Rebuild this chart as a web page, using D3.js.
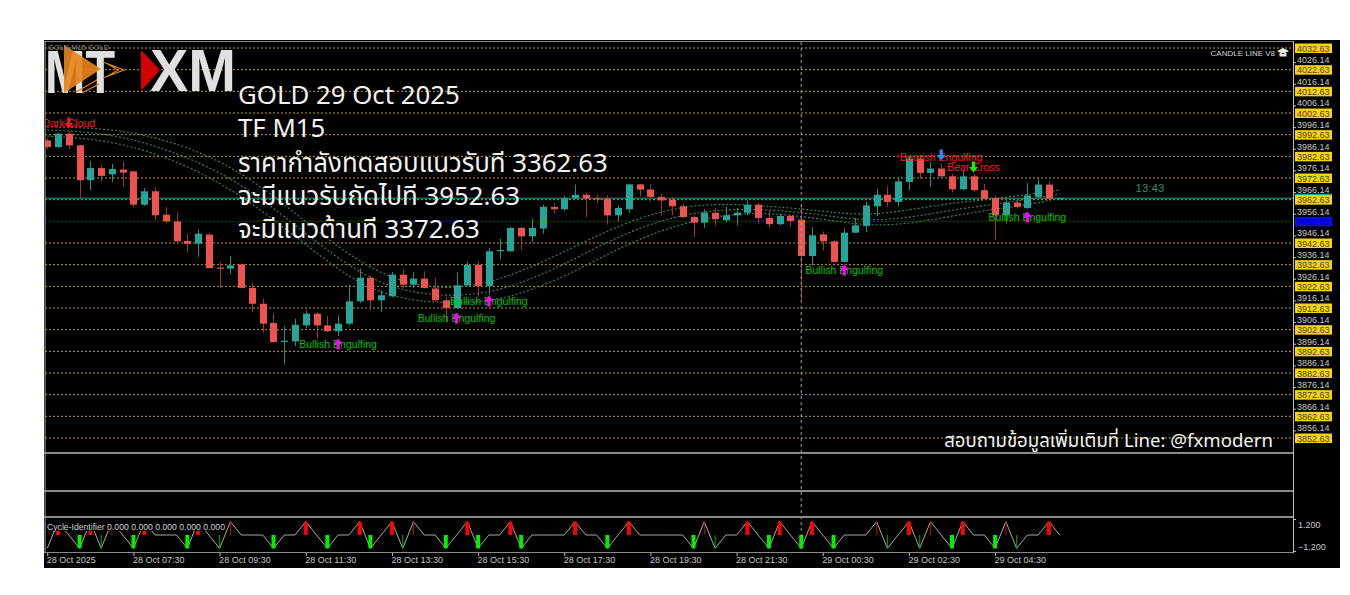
<!DOCTYPE html>
<html><head><meta charset="utf-8">
<script src="https://cdn.jsdelivr.net/npm/d3@7"></script>
<style>body{margin:0;background:#fff}svg{display:block}</style>
</head><body>
<svg id="c" width="1350" height="595"></svg>
<script>
// ---------------- DATA ----------------
const candleOpen  = [3990.0,3986.9,3993.1,3987.7,3971.6,3977.2,3974.3,3976.5,3975.7,3960.3,3966.5,3955.7,3952.6,3943.6,3942.3,3946.5,3931.3,3930.8,3932.8,3921.9,3914.6,3905.7,3897.0,3897.2,3904.6,3910.0,3904.6,3901.9,3905.4,3915.7,3926.6,3916.2,3918.0,3928.0,3923.4,3926.2,3921.6,3916.2,3912.6,3923.1,3932.6,3922.8,3939.0,3938.8,3949.6,3945.7,3949.3,3959.3,3958.2,3963.4,3964.9,3963.3,3963.1,3955.4,3958.2,3969.7,3967.3,3963.9,3962.6,3959.6,3954.6,3952.0,3956.6,3953.1,3955.4,3956.6,3960.3,3954.2,3951.3,3955.1,3953.4,3936.6,3946.6,3943.4,3933.9,3947.4,3950.5,3959.6,3964.9,3961.6,3970.8,3981.6,3975.0,3977.0,3973.4,3967.4,3973.4,3967.0,3963.4,3955.4,3961.3,3958.8,3963.9,3969.6,3963.1];
const candleHigh  = [3991.0,3993.5,3994.2,3988.0,3980.5,3978.8,3979.2,3980.3,3976.0,3968.0,3968.3,3959.2,3957.2,3946.9,3948.9,3947.4,3933.9,3936.6,3933.1,3924.3,3916.9,3910.0,3904.3,3907.7,3911.6,3910.5,3908.9,3909.2,3923.4,3930.8,3927.4,3920.8,3929.3,3930.3,3929.3,3929.6,3926.5,3917.7,3929.0,3933.9,3934.2,3940.3,3944.6,3950.0,3950.0,3953.9,3960.3,3961.1,3964.6,3969.6,3965.9,3964.9,3964.6,3960.0,3970.0,3970.0,3969.6,3965.4,3963.9,3960.8,3955.4,3958.2,3958.8,3959.3,3958.8,3962.3,3961.1,3957.7,3956.2,3955.4,3960.0,3950.0,3948.0,3943.9,3949.3,3954.2,3961.6,3967.7,3968.8,3973.0,3982.4,3983.4,3980.0,3979.3,3974.6,3976.2,3974.6,3970.0,3964.6,3963.1,3963.4,3970.3,3972.3,3971.1,3963.4];
const candleLow   = [3986.0,3986.5,3985.9,3963.1,3966.9,3971.1,3970.8,3968.5,3959.2,3959.7,3953.1,3951.6,3943.1,3938.5,3936.2,3930.8,3921.9,3928.2,3921.6,3910.8,3901.2,3896.6,3886.5,3895.1,3903.1,3898.5,3901.6,3899.7,3904.6,3915.0,3911.6,3910.8,3917.7,3921.9,3921.9,3921.6,3915.7,3905.9,3912.3,3922.8,3917.7,3918.8,3935.1,3938.5,3939.6,3943.1,3946.9,3956.2,3957.3,3963.0,3954.6,3960.8,3951.1,3952.6,3956.6,3964.2,3961.9,3955.4,3955.4,3954.2,3945.4,3949.6,3950.8,3952.0,3950.8,3955.4,3951.6,3949.6,3950.8,3950.0,3916.2,3932.3,3939.3,3933.6,3933.6,3947.2,3947.7,3955.1,3959.3,3959.5,3967.0,3972.3,3968.5,3972.6,3965.9,3967.0,3966.0,3962.8,3943.9,3951.6,3958.5,3958.5,3963.4,3962.8,3963.0];
const candleClose = [3986.9,3993.1,3987.7,3971.6,3977.2,3973.6,3976.8,3975.1,3960.3,3966.5,3955.4,3952.6,3943.4,3942.3,3946.9,3931.1,3931.0,3932.3,3921.9,3914.6,3905.4,3896.9,3897.5,3904.9,3910.0,3904.6,3901.9,3905.4,3915.7,3926.6,3916.2,3918.5,3928.0,3923.4,3926.2,3921.9,3916.2,3912.6,3923.1,3932.6,3922.8,3938.8,3939.4,3949.6,3945.7,3949.6,3959.3,3958.2,3963.4,3964.9,3963.1,3963.0,3955.4,3958.8,3969.7,3967.3,3963.9,3962.3,3959.6,3954.6,3952.0,3956.6,3953.6,3955.4,3956.6,3960.3,3954.2,3951.3,3955.1,3952.8,3936.6,3946.2,3943.4,3933.9,3947.4,3950.8,3960.0,3964.9,3961.6,3971.1,3981.6,3975.0,3977.0,3973.4,3967.4,3973.4,3967.0,3963.1,3955.4,3961.3,3959.3,3964.6,3969.6,3963.1,3963.3];

// ribbon (dotted moving lines), read at these bar indices
const ribbonIndex = [0,6,12,18,24,30,36,42,48,54,60,66,72,76,80,84,88,92,94];
const ribbonUpper = [3996.2,3995.7,3989.3,3976.3,3952.3,3929.3,3920.0,3924.7,3938.5,3953.3,3961.1,3960.2,3957.4,3955.1,3957.9,3961.1,3963.0,3965.7,3967.1];
const ribbonMiddle= [3994.8,3993.4,3984.6,3970.8,3946.8,3924.2,3917.3,3919.6,3932.5,3948.6,3957.4,3958.8,3955.6,3952.8,3954.2,3957.9,3960.6,3963.4,3965.3];
const ribbonLower = [3992.0,3990.2,3981.0,3965.3,3941.7,3919.1,3914.5,3915.4,3926.5,3943.1,3953.7,3957.4,3953.7,3950.5,3951.4,3955.1,3958.3,3961.1,3963.4];

const priceLevels = [4032.63,4022.63,4012.63,4002.63,3992.63,3982.63,3972.63,3962.63,3952.63,3942.63,3932.63,3922.63,3912.63,3902.63,3892.63,3882.63,3872.63,3862.63,3852.63];
const supportLevel = 3952.63;
const priceTicks = [4026.14,4016.14,4006.14,3996.14,3986.14,3976.14,3966.14,3956.14,3946.14,3936.14,3926.14,3916.14,3906.14,3896.14,3886.14,3876.14,3866.14,3856.14];
const bidPrice = 3963.3;
const separatorIndex = 70;

const timeTickIndex = [0,8,16,24,32,40,48,56,64,72,80,88];
const timeLabels = ["28 Oct 2025","28 Oct 07:30","28 Oct 09:30","28 Oct 11:30","28 Oct 13:30","28 Oct 15:30","28 Oct 17:30","28 Oct 19:30","28 Oct 21:30","29 Oct 00:30","29 Oct 02:30","29 Oct 04:30"];

const signalIndex = [2,27,38,41,74,83,86,91];
const signalText  = ["Dark Cloud","Bullish Engulfing","Bullish Engulfing","Bullish Engulfing","Bullish Engulfing","Bearish Engulfing","Bear Cross","Bullish Engulfing"];
const signalPrice = [3998.0,3896.0,3908.0,3915.9,3930.2,3982.3,3977.7,3954.6];
const signalType  = ["darkcloud","bull","bull","bull","bull","bearengulf","bearcross","bull"];

const cycleValues = [-1,1,0,-1,1,-1,1,0,-1,1,0,0,0,-1,1,0,-1,1,0,0,0,-1,0,0,1,0,-1,0,0,1,-1,0,1,-1,1,0,0,-1,0,1,-1,0,0,1,-1,0,0,0,0,1,0,0,-1,0,1,0,0,0,0,0,-1,1,-1,0,0,1,0,-1,1,0,-1,1,0,-1,0,0,0,1,-1,0,1,-1,1,0,-1,1,0,0,-1,1,-1,0,0,1,0];
const cycleRedThick = [1,4,9,14,24,29,32,39,43,49,54,65,68,71,80,85,93];
const cycleRedThin = [6,17,34,61,77,82,89];
const cycleGreenThick = [3,8,13,21,26,30,37,40,44,52,60,67,70,73,84,88];
const cycleGreenThin = [5,16,33,62,78,81,90];
const cycleAxisValues = [1.2,-1.2];

const titleLines = ["GOLD 29 Oct 2025","TF M15","ราคากำลังทดสอบแนวรับที 3362.63","จะมีแนวรับถัดไปที 3952.63","จะมีแนวต้านที 3372.63"];
const footerText = "สอบถามข้อมูลเพิ่มเติมที่ Line: @fxmodern";
const timerText = "13:43";

// ---------------- DRAW ----------------
const svg = d3.select('#c');
const L = 45, R = 1293, T = 42, B = 452;
const thai = "'Noto Sans Thai','Noto Sans Thai UI','Noto Sans','DejaVu Sans',sans-serif";
const small = "'Liberation Sans',Arial,sans-serif";

svg.append('rect').attr('x',44).attr('y',40).attr('width',1296).attr('height',528).attr('fill','#000');

const x = d3.scaleLinear().domain([0,94]).range([47.3,1059.7]);
const y = d3.scaleLinear().domain([3846.17,4035.4]).range([B,T]);
const yc = d3.scaleLinear().domain([-1.2,1.2]).range([551,519]);

svg.append('clipPath').attr('id','mc').append('rect').attr('x',L).attr('y',T).attr('width',R-L).attr('height',B-T);
svg.append('clipPath').attr('id','ic').append('rect').attr('x',L).attr('y',518).attr('width',R-L).attr('height',34);

const main = svg.append('g').attr('clip-path','url(#mc)');

// grid levels
main.selectAll('line.lvl').data(priceLevels).enter().append('line')
  .attr('x1',L).attr('x2',R).attr('y1',d=>y(d)).attr('y2',d=>y(d))
  .attr('stroke',d=>d===supportLevel?'#1a1aff':'#c0a000').attr('stroke-width',1).attr('stroke-dasharray','2,2');

// period separator
svg.append('line').attr('x1',x(separatorIndex)).attr('x2',x(separatorIndex)).attr('y1',T).attr('y2',552)
  .attr('stroke','#a0a0a0').attr('stroke-dasharray','3,3');

// ribbons
const rl = d3.line().x((d,i)=>x(ribbonIndex[i])).y(d=>y(d)).curve(d3.curveBasis);
[ribbonUpper,ribbonMiddle,ribbonLower].forEach(arr=>{
  main.append('path').attr('d',rl(arr)).attr('fill','none').attr('stroke','#3a8c5c').attr('stroke-width',1.1).attr('stroke-dasharray','2,2');
});

// bid line
main.append('line').attr('x1',L).attr('x2',R).attr('y1',y(bidPrice)).attr('y2',y(bidPrice)).attr('stroke','#24978c').attr('stroke-width',1);

// candles
const idx = d3.range(candleOpen.length);
const up = i => candleClose[i] >= candleOpen[i];
main.selectAll('line.wick').data(idx).enter().append('line')
  .attr('x1',i=>Math.round(x(i))+0.5).attr('x2',i=>Math.round(x(i))+0.5)
  .attr('y1',i=>y(candleHigh[i])).attr('y2',i=>y(candleLow[i]))
  .attr('stroke',i=>up(i)?'#1f8f84':'#a03434').attr('stroke-width',1);
main.selectAll('rect.body').data(idx).enter().append('rect')
  .attr('x',i=>Math.round(x(i))-3).attr('width',7)
  .attr('y',i=>y(Math.max(candleOpen[i],candleClose[i])))
  .attr('height',i=>Math.max(1.2,Math.abs(y(candleOpen[i])-y(candleClose[i]))))
  .attr('fill',i=>up(i)?'#26a69a':'#ef5350');

// signals
function arrow(g,cx,cy,dir,color){
  const h=11, hw=4.5, sw=1.6, hh=5.5;
  const tip = cy - dir*h/2, base = cy + dir*h/2, neck = tip + dir*hh;
  g.append('path').attr('d',`M${cx},${tip} L${cx+hw},${neck} L${cx+sw},${neck} L${cx+sw},${base} L${cx-sw},${base} L${cx-sw},${neck} L${cx-hw},${neck} Z`).attr('fill',color);
}
const sig = main.append('g');
signalIndex.forEach((si,k)=>{
  const t = signalType[k];
  const cx = x(si), cy = y(signalPrice[k]);
  const tc = t==='bull' ? '#00c400' : '#ff1a1a';
  sig.append('text').attr('x',cx).attr('y',cy+3.6).attr('text-anchor','middle').text(signalText[k])
    .attr('font-family',small).attr('font-size',10.5).attr('fill',tc);
  const ac = t==='bull'?'#ff00ff':(t==='darkcloud'?'#ff1a1a':(t==='bearengulf'?'#2a8cff':'#00ff00'));
  arrow(sig,cx,t==='bearengulf'?cy-2:cy,t==='bull'?1:-1,ac);
});

// timer and top-right label
main.append('text').attr('x',1150).attr('y',192).attr('text-anchor','middle').text(timerText)
  .attr('font-family',small).attr('font-size',11.5).attr('fill','#2e8b62');
main.append('text').attr('x',1275).attr('y',56).attr('text-anchor','end').text('CANDLE LINE V8')
  .attr('font-family',small).attr('font-size',8).attr('fill','#d8d8d8');
main.append('path').attr('d','M1277,51 L1283,48 L1289,51 L1283,54 Z M1279.5,53 L1279.5,56.5 L1286.5,56.5 L1286.5,53 Z').attr('fill','#e8e8e8');

// logo
const lg = main.append('g');
lg.append('text').attr('x',45).attr('y',93).text('MT').attr('font-family',small).attr('font-weight','bold').attr('font-size',62)
  .attr('textLength',70).attr('lengthAdjust','spacingAndGlyphs').attr('fill','#e0e0e0');
lg.append('path').attr('d','M64,45 L101,69 L64,93 Z').attr('fill','#e8841a').attr('opacity',0.9);
lg.append('path').attr('d','M103,62 L124,70 L103,78 M108,64 L118,70 L108,76').attr('fill','none').attr('stroke','#e8841a').attr('stroke-width',1.2);
lg.append('path').attr('d','M76,92 L97,80 M82,93 L99,84').attr('fill','none').attr('stroke','#e8841a').attr('stroke-width',1.2);
lg.append('path').attr('d','M141,50 L160,70 L141,91 Z').attr('fill','#d40000');
lg.append('text').attr('x',150).attr('y',91).text('XM').attr('font-family',small).attr('font-weight','bold').attr('font-size',60)
  .attr('textLength',86).attr('lengthAdjust','spacingAndGlyphs').attr('fill','#e0e0e0');

// small header text (drawn across the top of the logo, as in the terminal)
main.append('text').attr('x',48).attr('y',49.5).text('GOLD,M15  GOLD').attr('font-family',small).attr('font-size',7.5).attr('fill','#8c8c8c');

// title text
const tY = [104,137,172,205,238];
titleLines.forEach((s,k)=>{
  main.append('text').attr('x',238).attr('y',tY[k]).text(s).attr('font-family',thai).attr('font-size',25.8).attr('fill','#f2f2f2');
});
main.append('text').attr('x',1273).attr('y',447).attr('text-anchor','end').text(footerText)
  .attr('font-family',thai).attr('font-size',18.6).attr('fill','#f2f2f2');

// panels frame
svg.append('rect').attr('x',44).attr('y',41).attr('width',1249).attr('height',1).attr('fill','#8a8a8a');
[452,490,516].forEach(v=>svg.append('rect').attr('x',44).attr('y',v).attr('width',1250).attr('height',2).attr('fill','#8a8a8a'));
svg.append('rect').attr('x',44).attr('y',552).attr('width',1250).attr('height',1).attr('fill','#8a8a8a');
svg.append('rect').attr('x',44.5).attr('y',41).attr('width',1.2).attr('height',512).attr('fill','#8a8a8a');
svg.append('rect').attr('x',1293).attr('y',41).attr('width',1).attr('height',512).attr('fill','#bdbdbd');

// price axis ticks
const pa = svg.append('g').attr('transform',`translate(${R},0)`)
  .call(d3.axisRight(y).tickValues(priceTicks).tickFormat(d3.format('.2f')).tickSize(3).tickPadding(1));
pa.select('.domain').remove();
pa.selectAll('line').attr('stroke','#c0c0c0');
pa.selectAll('text').attr('font-family',small).attr('font-size',9).attr('fill','#c8c8c8').attr('dy','0.05em');

// bid box (behind level box)
svg.append('rect').attr('x',1295).attr('y',y(bidPrice)-4.5).attr('width',37).attr('height',9).attr('fill','#26a69a');
// level boxes
const lb = svg.append('g');
priceLevels.forEach(p=>{
  const sup = p===supportLevel;
  lb.append('rect').attr('x',1295).attr('y',y(p)-4.5).attr('width',37).attr('height',9.5).attr('fill',sup?'#0a0af0':'#f6d40c');
  lb.append('text').attr('x',1297).attr('y',y(p)+3.6).text(d3.format('.2f')(p)).attr('font-family',small).attr('font-size',9)
    .attr('fill',sup?'#00009a':'#4a4320');
});

// indicator panel
const ind = svg.append('g').attr('clip-path','url(#ic)');
const cl = d3.line().x((d,i)=>x(i)).y(d=>yc(d));
ind.append('path').attr('d',cl(cycleValues)).attr('fill','none').attr('stroke','#a8a8a8').attr('stroke-width',1);
function bars(list,w,val,color){
  list.forEach(i=>{
    const y0=yc(0), y1=yc(val);
    ind.append('rect').attr('x',x(i)-w/2).attr('width',w).attr('y',Math.min(y0,y1)).attr('height',Math.abs(y1-y0)).attr('fill',color);
  });
}
bars(cycleRedThick,4,1,'#ff0000'); bars(cycleRedThin,1,1,'#d00000');
bars(cycleGreenThick,4,-1,'#00f000'); bars(cycleGreenThin,1,-1,'#00a800');
const lab = 'Cycle-Identifier 0.000 0.000 0.000 0.000 0.000';
ind.append('rect').attr('x',46).attr('y',521).attr('width',180).attr('height',10).attr('fill','#000');
ind.append('text').attr('x',47).attr('y',529.5).text(lab).attr('font-family',small).attr('font-size',9)
  .attr('textLength',178).attr('lengthAdjust','spacingAndGlyphs').attr('fill','#d0d0d0');
const ia = svg.append('g').attr('transform',`translate(${R},0)`)
  .call(d3.axisRight(yc).tickValues(cycleAxisValues).tickFormat(d3.format('.3f')).tickSize(3).tickPadding(2));
ia.select('.domain').remove();
ia.selectAll('line').attr('stroke','#c0c0c0');
ia.selectAll('text').attr('font-family',small).attr('font-size',9).attr('fill','#c8c8c8')
  .attr('dy',d=>d>0?'0.9em':'-0.15em');

// time axis
const ta = svg.append('g').attr('transform','translate(0,553)')
  .call(d3.axisBottom(x).tickValues(timeTickIndex).tickFormat((d,i)=>timeLabels[i]).tickSize(3).tickPadding(1));
ta.select('.domain').remove();
ta.selectAll('line').attr('stroke','#c0c0c0');
ta.selectAll('text').attr('text-anchor','start').attr('dx','-1').attr('font-family',small).attr('font-size',9).attr('fill','#c8c8c8');
</script>
</body></html>
